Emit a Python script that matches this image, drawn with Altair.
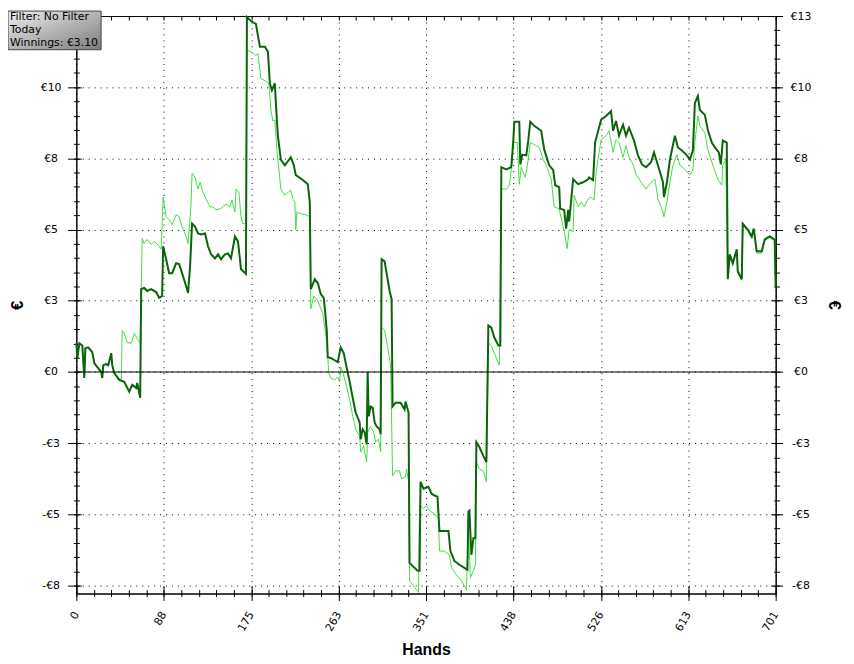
import altair as alt
import pandas as pd

# ---------------- data ----------------
dark_points = [
    (0, 1.05), (1, 0.51), (3, 1.05), (6, 0.97), (8, -0.22), (9, 0.87), (12, 0.90), (16, 0.72),
    (18, 0.33), (21, 0.18), (25, 0.00), (26, -0.22), (27, 0.25), (30, 0.29), (32, 0.25), (35, 0.69),
    (36, 0.25), (38, -0.04), (43, -0.29), (48, -0.36), (53, -0.72), (56, -0.47), (60, -0.58), (61, -0.40),
    (64, -0.94), (65, 3.03), (68, 3.07), (71, 2.96), (75, 3.03), (80, 2.92), (83, 2.71), (86, 2.78),
    (87, 4.59), (90, 4.12), (93, 3.61), (96, 3.61), (100, 3.97), (103, 3.94), (106, 3.61), (110, 3.14),
    (112, 2.89), (114, 3.86), (116, 5.42), (119, 5.31), (122, 5.06), (125, 5.02), (129, 5.06), (132, 4.59),
    (135, 4.30), (139, 4.15), (142, 4.30), (145, 4.12), (149, 4.30), (152, 4.33), (155, 4.15), (159, 4.95),
    (162, 4.77), (164, 4.12), (165, 3.76), (170, 3.58), (171, 12.96), (175, 12.82), (180, 12.71), (184, 11.88),
    (189, 11.88), (192, 11.70), (194, 10.54), (196, 10.29), (199, 10.54), (200, 9.82), (202, 8.63), (205, 7.76),
    (209, 7.55), (215, 7.84), (218, 7.55), (220, 7.19), (227, 7.01), (232, 6.86), (234, 6.21), (235, 3.03),
    (239, 3.39), (242, 3.25), (245, 2.85), (248, 2.71), (249, 2.35), (251, 1.52), (252, 0.54), (255, 0.51),
    (259, 0.43), (262, 0.36), (265, 0.90), (268, 0.69), (270, 0.33), (274, -0.36), (277, -0.94), (280, -1.48),
    (284, -1.84), (285, -2.46), (287, -2.09), (289, -2.20), (291, -2.64), (292, 0.00), (293, -1.62), (295, -1.26),
    (297, -1.30), (299, -1.84), (301, -1.99), (304, -2.09), (305, -2.27), (306, 4.12), (309, 4.04), (311, 3.61),
    (314, 2.96), (316, 2.67), (317, -1.26), (320, -1.12), (325, -1.12), (329, -1.37), (330, -1.08), (333, -1.48),
    (334, -6.97), (337, -7.08), (342, -7.26), (344, -7.26), (345, -4.01), (348, -4.26), (353, -4.19), (356, -4.44),
    (359, -4.51), (362, -4.55), (364, -5.81), (368, -5.81), (373, -5.81), (375, -6.54), (379, -6.90), (384, -7.04),
    (389, -7.15), (392, -7.22), (393, -5.09), (394, -5.06), (396, -6.68), (398, -6.07), (400, -6.07), (401, -2.56),
    (404, -2.74), (408, -3.07), (411, -3.29), (413, 1.70), (416, 1.62), (419, 1.26), (423, 0.97), (425, 0.97),
    (426, 7.48), (431, 7.40), (436, 7.48), (438, 8.45), (439, 9.14), (444, 9.14), (445, 7.58), (447, 7.94),
    (451, 7.91), (453, 8.45), (455, 9.14), (459, 8.99), (466, 8.81), (469, 8.12), (474, 7.55), (478, 7.37),
    (480, 6.82), (484, 6.75), (485, 5.96), (489, 5.92), (491, 5.24), (493, 5.92), (494, 5.49), (498, 7.04),
    (503, 6.86), (508, 6.93), (513, 7.04), (514, 7.11), (518, 7.01), (520, 8.38), (526, 9.21), (531, 9.35),
    (536, 9.53), (538, 8.81), (541, 9.17), (544, 8.63), (548, 9.03), (551, 8.63), (554, 8.92), (559, 8.45),
    (563, 7.91), (567, 7.58), (571, 7.48), (576, 7.66), (579, 8.02), (583, 7.55), (588, 6.93), (589, 6.39),
    (592, 6.93), (595, 7.76), (600, 8.63), (603, 8.20), (607, 8.09), (612, 7.91), (615, 7.76), (618, 8.09),
    (620, 9.82), (623, 10.08), (625, 9.57), (630, 9.39), (633, 8.85), (637, 8.38), (640, 8.20), (644, 8.02),
    (646, 7.58), (648, 8.45), (652, 8.38), (653, 3.39), (655, 4.30), (658, 3.97), (662, 4.48), (663, 3.68),
    (667, 3.39), (668, 5.42), (673, 5.20), (677, 4.95), (679, 5.24), (682, 4.41), (687, 4.41), (690, 4.84),
    (695, 4.95), (698, 4.88), (700, 4.84), (701, 3.10),
]

light_points = [
    (0, 1.05), (1, 0.51), (3, 1.05), (6, 0.97), (8, -0.22), (9, 0.87), (12, 0.90), (16, 0.72),
    (18, 0.33), (21, 0.18), (25, 0.00), (26, -0.22), (27, 0.25), (30, 0.29), (32, 0.25), (35, 0.69),
    (36, 0.25), (38, -0.04), (43, -0.22), (45, -0.29), (46, 1.52), (48, 1.41), (51, 1.08), (55, 1.05),
    (58, 1.41), (61, 1.23), (64, 1.05), (66, 4.88), (68, 4.69), (71, 4.84), (75, 4.66), (78, 4.77),
    (81, 4.69), (85, 4.48), (87, 6.39), (90, 5.67), (93, 5.56), (96, 5.38), (100, 5.74), (103, 5.67),
    (106, 5.31), (110, 4.95), (112, 4.69), (115, 6.14), (116, 7.26), (119, 7.11), (122, 6.68), (124, 6.93),
    (127, 6.57), (130, 6.32), (134, 6.03), (137, 6.03), (140, 5.92), (144, 5.96), (147, 6.03), (150, 6.14),
    (154, 6.03), (156, 6.28), (159, 5.85), (160, 6.68), (163, 6.57), (165, 5.67), (167, 5.42), (170, 5.42),
    (171, 11.74), (175, 11.70), (180, 11.56), (182, 11.63), (185, 10.72), (190, 10.62), (193, 10.54), (195, 9.57),
    (197, 9.17), (199, 9.21), (201, 8.12), (205, 6.68), (209, 6.46), (215, 6.64), (217, 6.32), (219, 6.21),
    (220, 5.20), (221, 5.85), (225, 5.78), (230, 5.74), (234, 5.67), (235, 2.31), (238, 2.78), (242, 2.60),
    (247, 2.13), (249, 1.62), (251, 1.16), (253, -0.04), (255, -0.22), (259, -0.29), (262, -0.18), (264, -0.36),
    (265, 0.18), (267, 0.00), (270, -0.40), (274, -1.01), (277, -1.62), (280, -2.09), (284, -2.35), (285, -2.92),
    (288, -2.71), (291, -3.29), (292, -2.20), (295, -1.99), (298, -2.20), (300, -2.56), (303, -2.46), (305, -2.92),
    (306, 1.62), (309, 1.52), (312, 0.90), (315, 0.25), (317, -3.79), (320, -3.61), (324, -3.61), (326, -3.90),
    (330, -3.83), (331, -3.54), (333, -3.97), (334, -7.62), (339, -7.87), (343, -8.05), (344, -4.88), (348, -4.98),
    (351, -4.88), (354, -5.06), (358, -5.16), (363, -5.34), (364, -6.54), (369, -6.54), (374, -6.68), (376, -7.15),
    (381, -7.40), (386, -7.62), (391, -7.94), (393, -5.71), (395, -7.51), (398, -7.26), (400, -7.04), (401, -3.29),
    (404, -3.54), (408, -3.61), (411, -4.01), (413, 1.05), (416, 0.97), (419, 0.69), (424, 0.25), (426, 6.68),
    (431, 6.68), (434, 6.82), (436, 7.37), (438, 8.38), (442, 8.38), (444, 6.86), (446, 7.48), (450, 7.11),
    (453, 7.76), (455, 8.38), (459, 8.31), (464, 8.20), (468, 7.76), (471, 7.55), (476, 7.04), (479, 6.03),
    (484, 5.96), (489, 5.13), (492, 4.51), (494, 5.20), (498, 5.13), (499, 6.46), (503, 6.03), (506, 6.21),
    (509, 6.03), (513, 6.32), (516, 6.39), (519, 6.28), (521, 7.29), (526, 8.49), (531, 8.63), (534, 8.81),
    (538, 8.02), (541, 8.49), (544, 8.38), (548, 7.84), (551, 8.27), (554, 7.84), (558, 7.58), (561, 7.22),
    (566, 6.93), (571, 6.68), (576, 6.93), (580, 7.04), (583, 6.32), (588, 5.85), (589, 5.67), (592, 6.21),
    (595, 6.93), (598, 7.55), (602, 7.94), (605, 7.55), (610, 7.40), (615, 7.19), (618, 7.37), (620, 8.38),
    (623, 9.35), (625, 8.99), (630, 8.74), (633, 8.12), (638, 7.55), (643, 7.04), (647, 6.82), (648, 7.55),
    (651, 7.76), (653, 3.43), (655, 4.26), (658, 3.93), (662, 4.44), (663, 3.64), (667, 3.35), (668, 5.38),
    (673, 5.13), (677, 4.88), (679, 5.20), (682, 4.34), (687, 4.34), (690, 4.80), (695, 4.91), (698, 4.84),
    (700, 4.80), (701, 3.10),
]

y_major = [-7.8, -5.2, -2.6, 0, 2.6, 5.2, 7.8, 10.4, 13]
x_major = [0, 87.625, 175.25, 262.875, 350.5, 438.125, 525.75, 613.375, 701]
x_minor = [round(i * 701 / 40, 3) for i in range(41)]
y_minor = [round(-7.8 + i * 0.52, 2) for i in range(41)]
box_lines = ["Filter: No Filter", "Today", "Winnings: \u20ac3.10"]
x_title = "Hands"
y_title = "\u20ac"

X_DOMAIN = [0, 701]
Y_DOMAIN = [-8.09, 13]

DARK = "#0a640a"
LIGHT = "#3fdf3f"
LABEL_FONT = "DejaVu Sans"
TITLE_FONT = "Liberation Sans"

dark_df = pd.DataFrame(dark_points, columns=["hand", "euro"])
light_df = pd.DataFrame(light_points, columns=["hand", "euro"])
zero_df = pd.DataFrame({"euro": [0.0]})
one_df = pd.DataFrame({"k": [0]})

xs = alt.Scale(domain=X_DOMAIN, nice=False, zero=False)
ys = alt.Scale(domain=Y_DOMAIN, nice=False, zero=False)

y_label_expr = "(datum.value < -0.01 ? '-\u20ac' : '\u20ac') + format(abs(datum.value), '.0f')"
# the top-left label is hidden behind the filter box in the reference
y_label_expr_left = "datum.value > 12.9 ? '' : " + y_label_expr
x_label_expr = "format(datum.value, '.0f')"


def axis_layer(channel, axis):
    base = alt.Chart(light_df).mark_line(opacity=0)
    if channel == "y":
        return base.encode(
            x=alt.X("hand:Q", scale=xs, axis=None),
            y=alt.Y("euro:Q", scale=ys, axis=axis),
        )
    return base.encode(
        x=alt.X("hand:Q", scale=xs, axis=axis),
        y=alt.Y("euro:Q", scale=ys, axis=None),
    )


tick_only = dict(labels=False, domain=False, grid=False, title=None, tickColor="black", tickWidth=1)

left_main = alt.Axis(
    orient="left", values=y_major, labelExpr=y_label_expr_left, tickSize=9, tickColor="black",
    domainColor="black", labelFont=LABEL_FONT, labelFontSize=11, labelColor="black",
    labelAlign="center", labelPadding=17, labelOverlap=False, grid=True, gridColor="black",
    gridDash=[1, 5], gridOpacity=1, title=y_title, titleFont=TITLE_FONT, titleFontSize=17,
    titleFontWeight="bold", titleColor="black", titlePadding=14, titleAngle=-90,
)
left_in = alt.Axis(orient="left", values=y_major, offset=-5, tickSize=5, **tick_only)
left_minor = alt.Axis(orient="left", values=y_minor, offset=-3, tickSize=6, **tick_only)

right_main = alt.Axis(
    orient="right", values=y_major, labelExpr=y_label_expr, tickSize=7, tickColor="black",
    domainColor="black", labelFont=LABEL_FONT, labelFontSize=11, labelColor="black",
    labelAlign="center", labelPadding=18, labelOverlap=False, grid=False,
    title=y_title, titleFont=TITLE_FONT, titleFontSize=17, titleFontWeight="bold",
    titleColor="black", titlePadding=14,
)
right_in = alt.Axis(orient="right", values=y_major, offset=-5, tickSize=5, **tick_only)
right_minor = alt.Axis(orient="right", values=y_minor, offset=-2, tickSize=6, **tick_only)

bottom_main = alt.Axis(
    orient="bottom", values=x_major, labelExpr=x_label_expr, tickSize=7, tickColor="black",
    domainColor="black", labelFont=LABEL_FONT, labelFontSize=11, labelColor="black",
    labelAngle=-60, labelAlign="right", labelBaseline="middle", labelPadding=12,
    labelFlush=False, labelOverlap=False, grid=True, gridColor="black", gridDash=[1, 5],
    gridOpacity=1, title=x_title, titleFont=TITLE_FONT, titleFontSize=16,
    titleFontWeight="bold", titleColor="black", titlePadding=9,
)
bottom_in = alt.Axis(orient="bottom", values=x_major, offset=-8, tickSize=8, **tick_only)
bottom_minor = alt.Axis(orient="bottom", values=x_minor, offset=-4, tickSize=7, **tick_only)
top_minor = alt.Axis(orient="top", values=x_minor, offset=-4, tickSize=4, **tick_only)

axis_layers = [
    axis_layer("y", left_main), axis_layer("y", left_in), axis_layer("y", left_minor),
    axis_layer("y", right_main), axis_layer("y", right_in), axis_layer("y", right_minor),
    axis_layer("x", bottom_main), axis_layer("x", bottom_in), axis_layer("x", bottom_minor),
    axis_layer("x", top_minor),
]

light_line = alt.Chart(light_df).mark_line(color=LIGHT, strokeWidth=1).encode(
    x=alt.X("hand:Q", scale=xs, axis=None),
    y=alt.Y("euro:Q", scale=ys, axis=None),
    order="hand:Q",
)
dark_line = alt.Chart(dark_df).mark_line(color=DARK, strokeWidth=2).encode(
    x=alt.X("hand:Q", scale=xs, axis=None),
    y=alt.Y("euro:Q", scale=ys, axis=None),
    order="hand:Q",
)
zero_rule = alt.Chart(zero_df).mark_rule(color="black", strokeWidth=1).encode(
    y=alt.Y("euro:Q", scale=ys, axis=None),
)

box = alt.Chart(one_df).mark_rect(
    fill=alt.Gradient(
        gradient="linear",
        stops=[alt.GradientStop(color="#eeeeee", offset=0), alt.GradientStop(color="#7c7c7c", offset=1)],
        x1=0, y1=0, x2=1, y2=1,
    ),
    stroke="#444444", strokeWidth=1,
).encode(x=alt.value(-69), x2=alt.value(25), y=alt.value(-5), y2=alt.value(34))

box_text = alt.Chart(one_df).mark_text(
    align="left", baseline="alphabetic", font=LABEL_FONT, fontSize=11, lineHeight=13, color="black",
).encode(x=alt.value(-67), y=alt.value(4), text=alt.value(box_lines))

chart = alt.layer(
    *axis_layers, light_line, dark_line, zero_rule, box, box_text
).resolve_axis(
    x="independent", y="independent"
).properties(
    width=706, height=583,
    autosize=alt.AutoSizeParams(type="none"),
    padding={"left": 69, "top": 5, "right": 71, "bottom": 66},
    background="white",
).configure_view(stroke="black", strokeWidth=1)

chart.save("out.html", embed_options={"renderer": "svg", "actions": False})
